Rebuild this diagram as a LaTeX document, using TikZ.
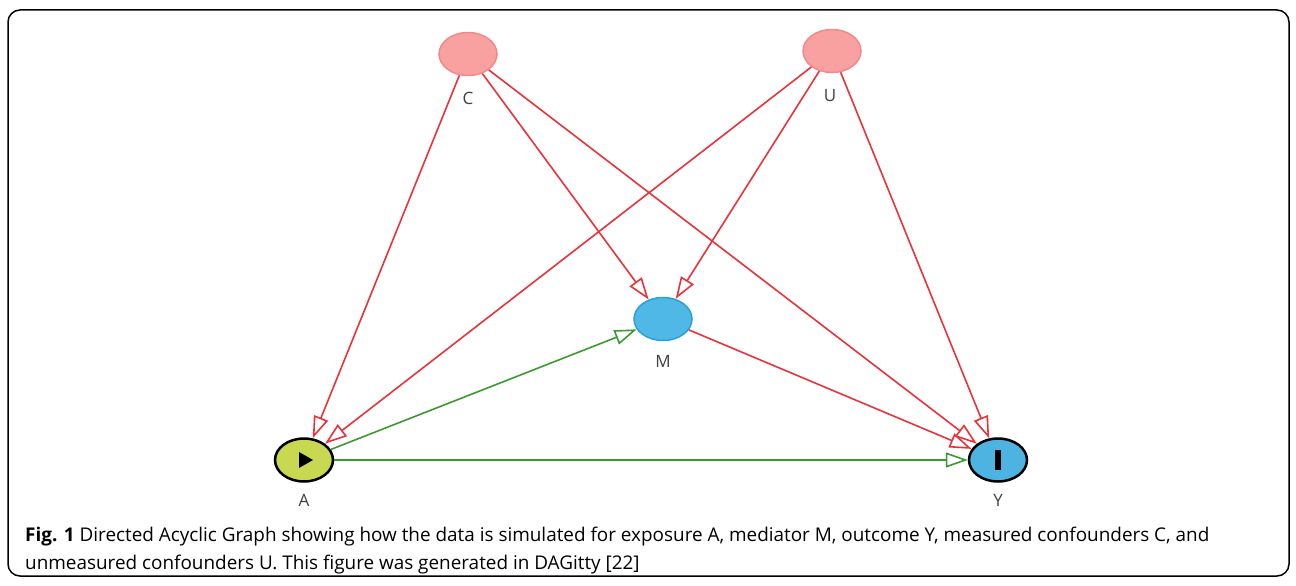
\documentclass[tikz,border=0pt]{standalone}
\usepackage{fontspec}
\setmainfont{Open Sans}
\usetikzlibrary{arrows.meta,shapes.geometric}
\definecolor{edgered}{HTML}{E8333A}
\definecolor{edgegreen}{HTML}{3A9A30}
\definecolor{confill}{HTML}{F9A0A0}
\definecolor{condraw}{HTML}{F08A8A}
\definecolor{medfill}{HTML}{4FB8E6}
\definecolor{meddraw}{HTML}{2AA0D8}
\definecolor{expfill}{HTML}{C8D850}
\definecolor{outfill}{HTML}{4DB3E0}
\definecolor{labgray}{HTML}{404040}
\tikzset{
  var/.style={ellipse, minimum width=58pt, minimum height=43pt, inner sep=0pt, line width=1.5pt},
  confounder/.style={var, fill=confill, draw=condraw},
  mediator/.style={var, fill=medfill, draw=meddraw},
  exposure/.style={var, fill=expfill, draw=black, line width=2.5pt},
  outcome/.style={var, fill=outfill, draw=black, line width=2.5pt},
  varlabel/.style={text=labgray, font=\fontsize{17}{19}\selectfont},
  opentip/.style={-{Triangle[open, length=22pt, width=15pt, line width=1.6pt]}},
  causal/.style={draw=edgered, line width=1.6pt, opentip},
  pathway/.style={draw=edgegreen, line width=1.6pt, opentip},
  caption/.style={anchor=base west, inner sep=0pt, font=\fontsize{18.9}{22}\selectfont}
}
\begin{document}
\begin{tikzpicture}[x=1pt, y=-1pt]
\useasboundingbox (0,0) rectangle (1296,586);
\draw[line width=1.5pt, rounded corners=12pt] (8,10) rectangle (1289,576);

% variables
\node[confounder] (C) at (468,54) {};
\node[confounder] (U) at (832,51) {};
\node[mediator]   (M) at (663,319) {};
\node[exposure]   (A) at (304,460) {};
\node[outcome]    (Y) at (998,460) {};

% exposure and outcome symbols
\fill (299,452) -- (313,460) -- (299,468) -- cycle;
\fill (995,450) rectangle (1001,470);

% variable labels
\node[varlabel] (Clab) at (468,98) {C};
\node[varlabel] (Ulab) at (830,96) {U};
\node[varlabel] (Mlab) at (663,361) {M};
\node[varlabel] (Alab) at (304,500) {A};
\node[varlabel] (Ylab) at (998,500) {Y};

% confounding paths
\draw[causal] (C) -- (A);
\draw[causal] (C) -- (M);
\draw[causal] (C) -- (Y);
\draw[causal] (U) -- (A);
\draw[causal] (U) -- (M);
\draw[causal] (U) -- (Y);
\draw[causal] (M) -- (Y);

% causal pathways from the exposure
\draw[pathway] (A) -- (M);
\draw[pathway] (A) -- (Y);

% caption
\node[caption] (cap1) at (25,541) {\textbf{Fig. 1} Directed Acyclic Graph showing how the data is simulated for exposure A, mediator M, outcome Y, measured confounders C, and};
\node[caption] (cap2) at (25,569) {unmeasured confounders U. This figure was generated in DAGitty [22]};
\end{tikzpicture}
\end{document}
